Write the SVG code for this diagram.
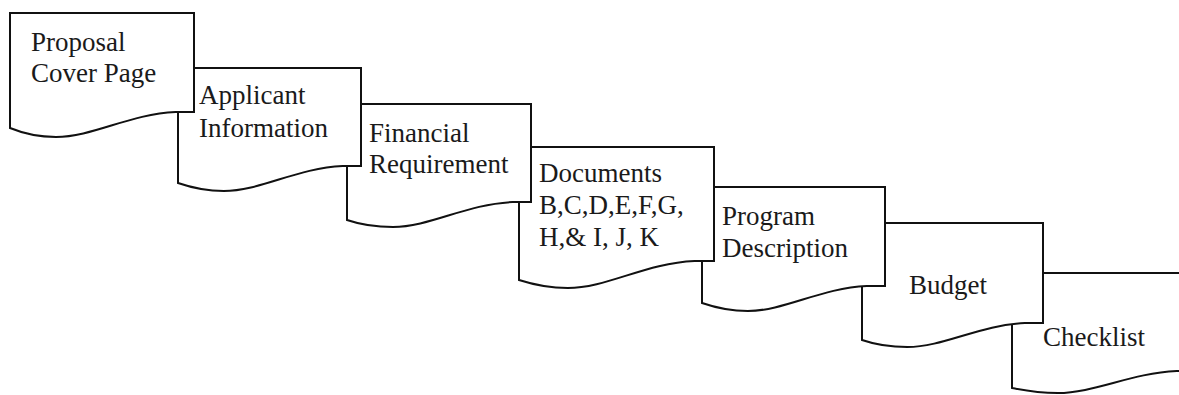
<svg xmlns="http://www.w3.org/2000/svg" width="1179" height="395" viewBox="0 0 1179 395">
<style>
.doc{fill:#fff;stroke:#111;stroke-width:2;stroke-linejoin:miter}
.t{font-family:"Liberation Serif","Times New Roman",serif;font-size:27px;fill:#1a1a1a}
</style>
<rect width="1179" height="395" fill="#fff"/>
<g id="connectors"></g>
<g id="n7"><path class="doc" d="M1012,273 H1195 V371 H1176.7 C1131,373 1094.4,393 1057.8,393 C1041.3,393 1026.6,391 1012,388 Z"/><text class="t" x="1043" y="346">Checklist</text></g>
<g id="n6"><path class="doc" d="M862,223 H1043 V323 H1024.9 C979.7,325 943.5,347 907.3,347 C891,347 876.5,345 862,340 Z"/><text class="t" x="909" y="294">Budget</text></g>
<g id="n5"><path class="doc" d="M702,187 H885 V286 H866.7 C821,288 784.4,311 747.8,311 C731.3,311 716.6,308 702,303 Z"/><text class="t" x="722" y="225">Program</text><text class="t" x="722" y="257">Description</text></g>
<g id="n4"><path class="doc" d="M519,147 H714 V261 H694.5 C645.8,263 606.8,288 567.8,288 C550.2,288 534.6,285 519,280 Z"/><text class="t" x="539" y="182">Documents</text><text class="t" x="539" y="214">B,C,D,E,F,G,</text><text class="t" x="539" y="246">H,&amp; I, J, K</text></g>
<g id="n3"><path class="doc" d="M347,104 H531 V202 H512.6 C466.6,204 429.8,227 393,227 C376.4,227 361.7,225 347,220 Z"/><text class="t" x="369" y="142">Financial</text><text class="t" x="369" y="173">Requirement</text></g>
<g id="n2"><path class="doc" d="M178,68 H361 V166 H342.7 C297,168 260.4,191 223.8,191 C207.3,191 192.6,188 178,183 Z"/><text class="t" x="199" y="104">Applicant</text><text class="t" x="199" y="137">Information</text></g>
<g id="n1"><path class="doc" d="M10,13 H194 V112 H175.6 C129.6,114 92.8,137 56,137 C39.4,137 24.7,134 10,128 Z"/><text class="t" x="31" y="51">Proposal</text><text class="t" x="31" y="82">Cover Page</text></g>
</svg>
